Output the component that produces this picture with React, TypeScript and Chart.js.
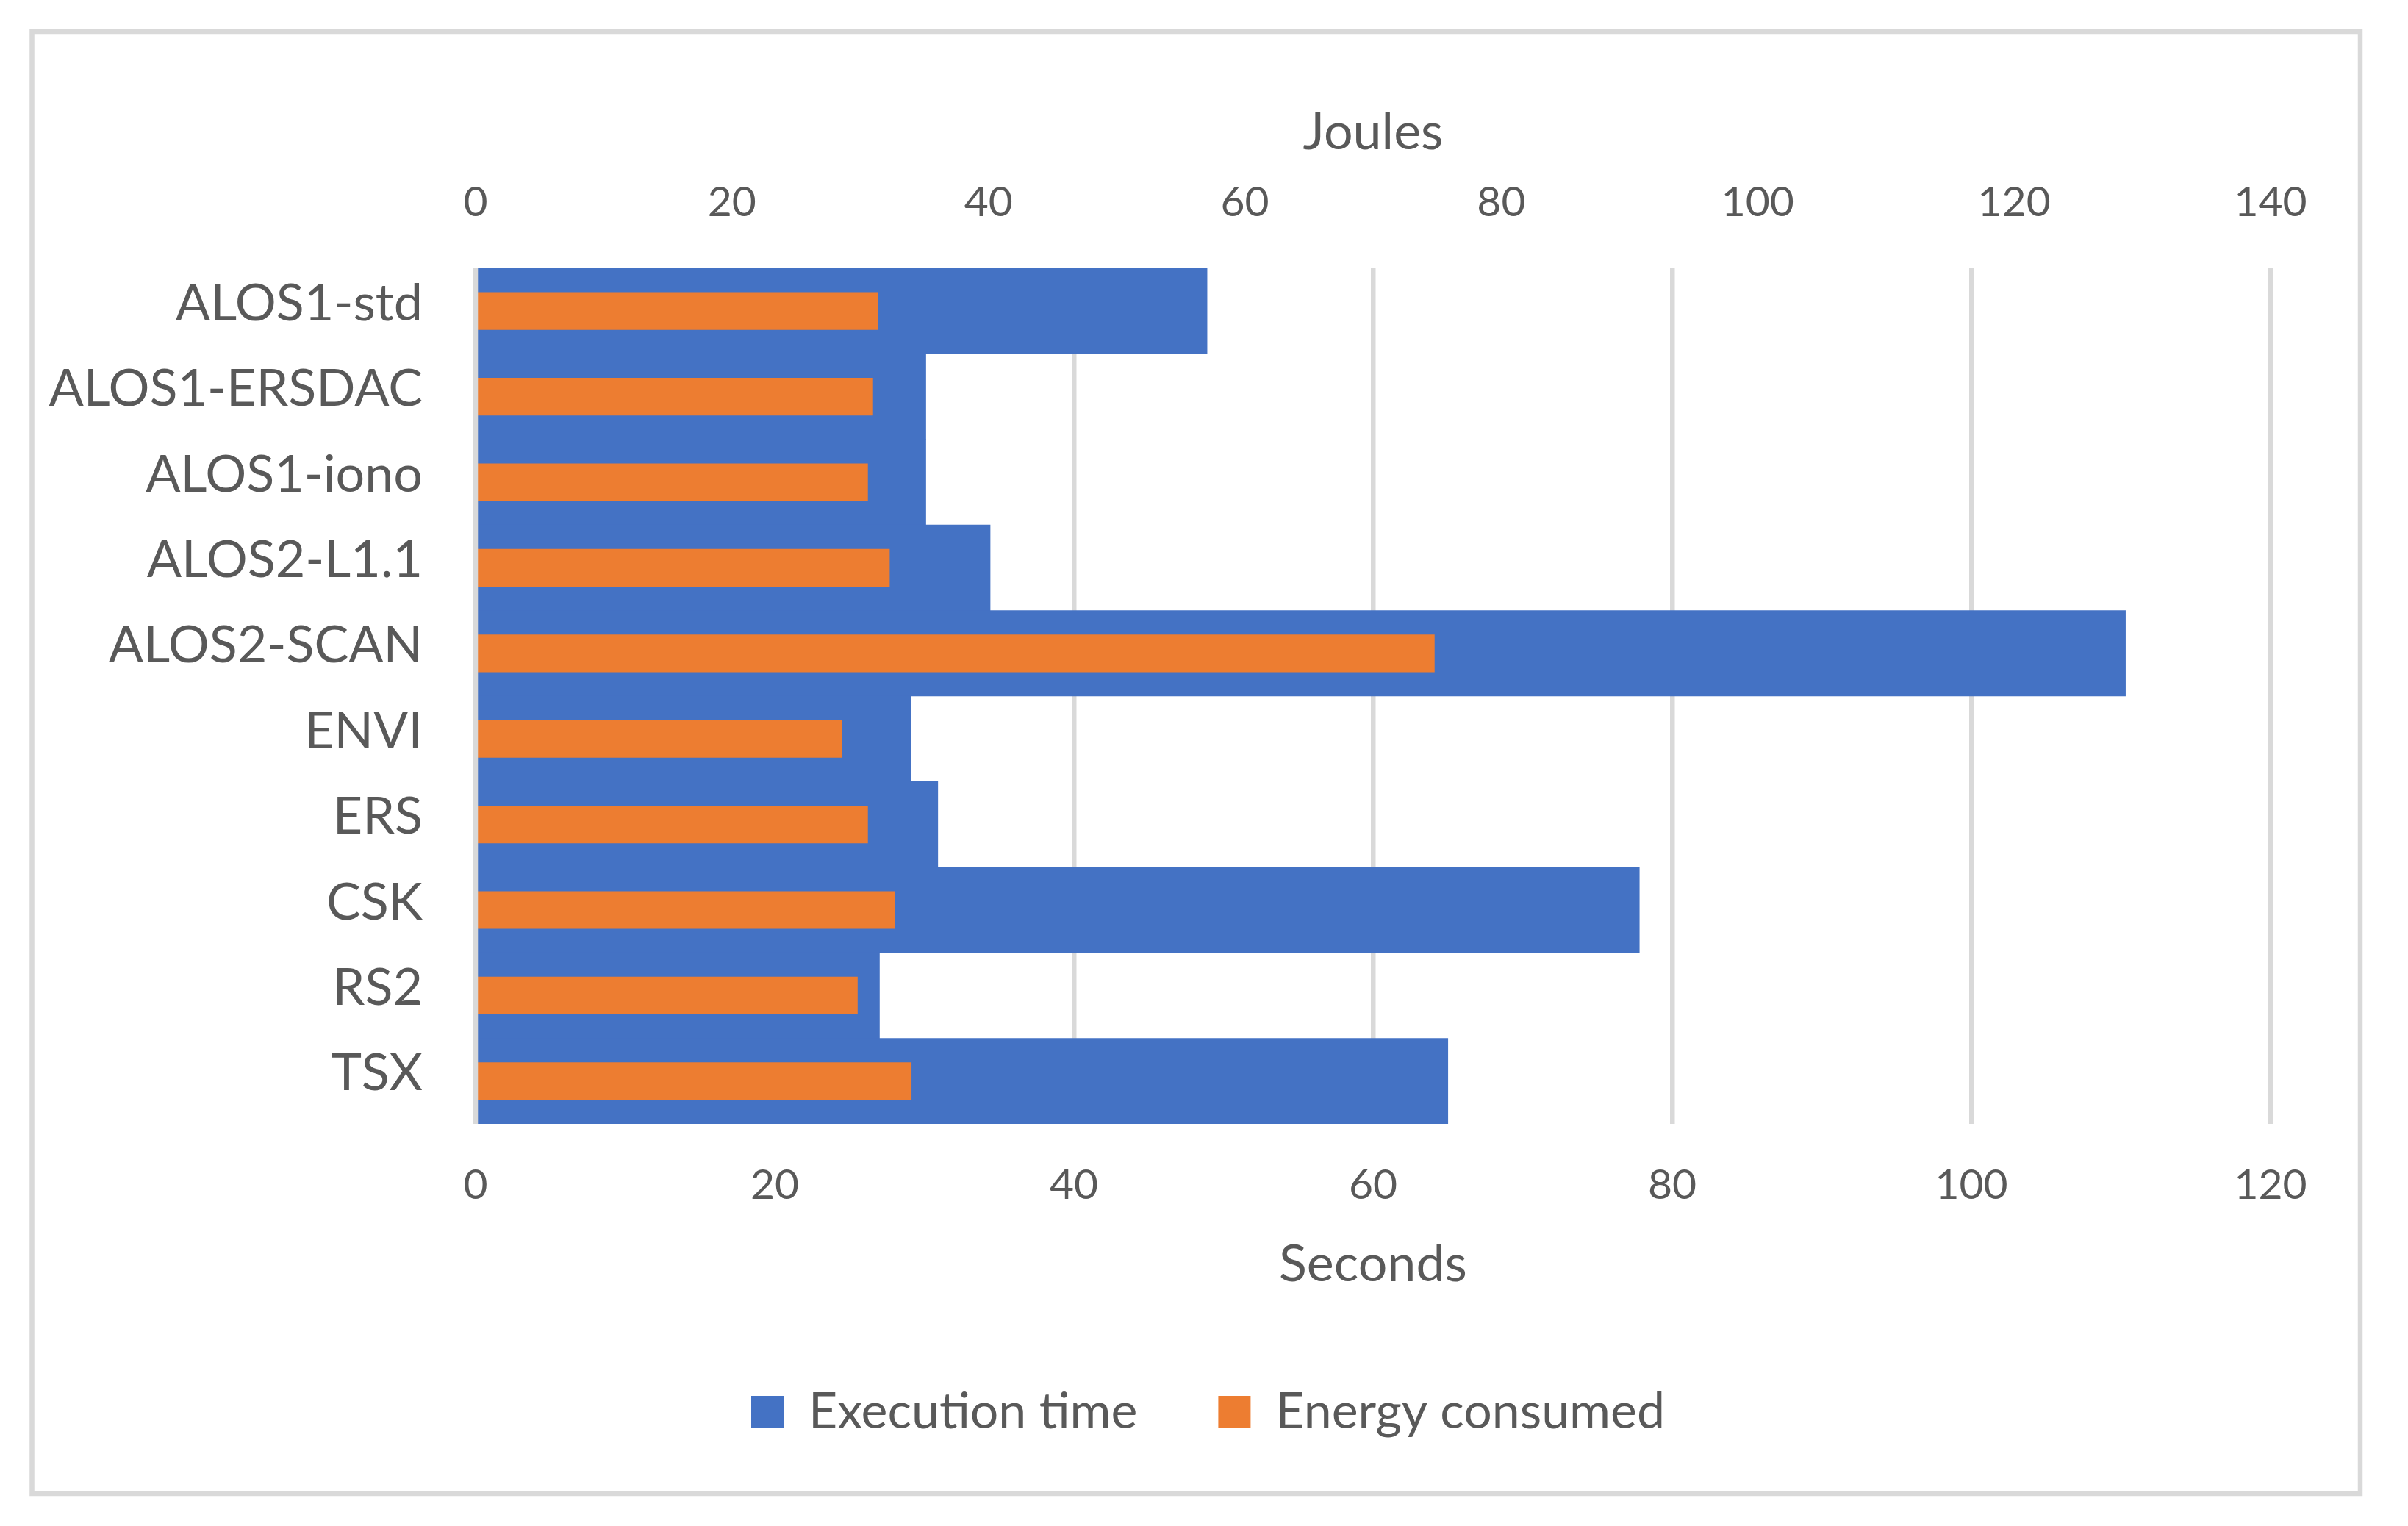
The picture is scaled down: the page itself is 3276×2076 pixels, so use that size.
import React, { useEffect, useRef } from "react";
import { Chart, registerables } from "chart.js";

Chart.register(...registerables);

const categories = [
  "ALOS1-std",
  "ALOS1-ERSDAC",
  "ALOS1-iono",
  "ALOS2-L1.1",
  "ALOS2-SCAN",
  "ENVI",
  "ERS",
  "CSK",
  "RS2",
  "TSX",
];
const executionTime = [48.9, 30.1, 30.1, 34.4, 110.3, 29.1, 30.9, 77.8, 27.0, 65.0];
const energyConsumed = [31.4, 31.0, 30.6, 32.3, 74.8, 28.6, 30.6, 32.7, 29.8, 34.0];
const secondsAxis = { min: 0, max: 120, step: 20, title: "Seconds" };
const joulesAxis = { min: 0, max: 140, step: 20, title: "Joules" };
const seriesNames = ["Execution time", "Energy consumed"];

const FONT = "Lato, 'Open Sans', sans-serif";
const TEXT = "#595959";
const GRID = "#d9d9d9";

const borderPlugin = {
  id: "outerBorder",
  beforeDraw(chart: any) {
    const ctx = chart.ctx;
    ctx.save();
    ctx.fillStyle = "#ffffff";
    ctx.fillRect(0, 0, chart.width, chart.height);
    ctx.strokeStyle = GRID;
    ctx.lineWidth = 6.5;
    ctx.strokeRect(43.5, 43, 3211 - 43.5, 2032 - 43);
    ctx.restore();
  },
  afterLayout(chart: any) {
    if (chart.legend) {
      chart.legend.left = 198;
    }
  },
  afterDatasetsDraw(chart: any) {
    const xs = chart.scales.x;
    const area = chart.chartArea;
    const px = xs.getPixelForValue(0);
    const ctx = chart.ctx;
    ctx.save();
    ctx.strokeStyle = GRID;
    ctx.lineWidth = 6.5;
    ctx.beginPath();
    ctx.moveTo(px, area.top);
    ctx.lineTo(px, area.bottom);
    ctx.stroke();
    ctx.restore();
  },
};

export default function App() {
  const ref = useRef<HTMLCanvasElement | null>(null);

  useEffect(() => {
    if (!ref.current) return;
    const chart = new Chart(ref.current, {
      type: "bar",
      data: {
        labels: categories,
        datasets: [
          {
            label: seriesNames[0],
            data: executionTime,
            backgroundColor: "#4472C4",
            borderWidth: 0,
            xAxisID: "x",
            yAxisID: "y",
            grouped: false,
            categoryPercentage: 1,
            barPercentage: 1,
            order: 1,
          },
          {
            label: seriesNames[1],
            data: energyConsumed,
            backgroundColor: "#ED7D31",
            borderWidth: 0,
            xAxisID: "x2",
            yAxisID: "y",
            grouped: false,
            categoryPercentage: 1,
            barPercentage: 0.44,
            order: 0,
          },
        ],
      },
      options: {
        indexAxis: "y",
        animation: false,
        responsive: false,
        maintainAspectRatio: false,
        layout: { padding: { left: 40, right: 187, top: 0, bottom: 111 } },
        plugins: {
          tooltip: { enabled: false },
          legend: {
            position: "bottom",
            align: "center",
            labels: {
              boxWidth: 44,
              boxHeight: 44,
              padding: 110,
              color: TEXT,
              font: { family: FONT, size: 68 },
              sort: (a: any, b: any) => a.datasetIndex - b.datasetIndex,
            },
          },
        },
        scales: {
          x: {
            type: "linear",
            position: "bottom",
            min: secondsAxis.min,
            max: secondsAxis.max,
            afterFit: (s: any) => {
              s.height = 248;
            },
            ticks: {
              stepSize: secondsAxis.step,
              color: TEXT,
              font: { family: FONT, size: 57 },
              padding: 49,
            },
            grid: {
              display: true,
              color: GRID,
              lineWidth: 6.5,
              drawTicks: false,
            },
            border: { display: false },
            title: {
              display: true,
              text: secondsAxis.title,
              color: TEXT,
              font: { family: FONT, size: 70 },
              padding: { top: 0, bottom: 15 },
            },
          },
          x2: {
            type: "linear",
            position: "top",
            min: joulesAxis.min,
            max: joulesAxis.max,
            afterFit: (s: any) => {
              s.height = 365;
            },
            ticks: {
              stepSize: joulesAxis.step,
              color: TEXT,
              font: { family: FONT, size: 57 },
              padding: 55,
            },
            grid: { display: false, drawTicks: false },
            border: { display: false },
            title: {
              display: true,
              text: joulesAxis.title,
              color: TEXT,
              font: { family: FONT, size: 70 },
              padding: { top: 138, bottom: 0 },
            },
          },
          y: {
            type: "category",
            position: "left",
            afterFit: (s: any) => {
              s.width = 647 - 40;
            },
            ticks: {
              color: TEXT,
              font: { family: FONT, size: 70 },
              padding: 72,
              labelOffset: -10,
              autoSkip: false,
            },
            grid: { display: false, drawTicks: false },
            border: { display: false },
          },
        },
      },
      plugins: [borderPlugin],
    } as any);
    return () => chart.destroy();
  }, []);

  return (
    <div style={{ position: "absolute", left: 0, top: 0, width: 3276, height: 2076 }}>
      <canvas ref={ref} width={3276} height={2076} style={{ width: 3276, height: 2076 }} />
    </div>
  );
}
